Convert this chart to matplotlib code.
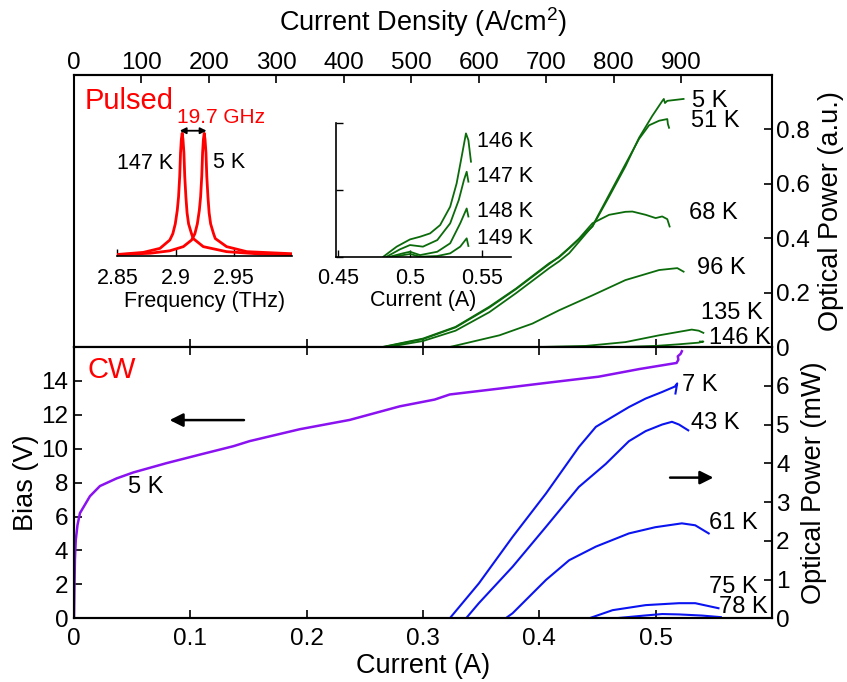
import matplotlib
matplotlib.use('Agg')
import matplotlib.pyplot as plt

plt.rcParams['font.family'] = ['Liberation Sans', 'DejaVu Sans']
plt.rcParams['mathtext.fontset'] = 'custom'
plt.rcParams['mathtext.rm'] = 'Liberation Sans'
plt.rcParams['mathtext.it'] = 'Liberation Sans:italic'
plt.rcParams['axes.linewidth'] = 1.5

# ---------------- data ----------------
# Pulsed L-I (current in A, optical power in a.u.)
p5_I = [0.265, 0.3, 0.328, 0.357, 0.38, 0.4085, 0.417, 0.4257, 0.4457, 0.46, 0.474, 0.4857, 0.497, 0.5056, 0.507, 0.508, 0.51, 0.524]
p5_P = [0, 0.031, 0.074, 0.148, 0.215, 0.308, 0.33, 0.363, 0.443, 0.553, 0.664, 0.769, 0.849, 0.904, 0.912, 0.897, 0.905, 0.912]
p51_I = [0.27, 0.3, 0.328, 0.357, 0.38, 0.4085, 0.417, 0.4257, 0.4457, 0.46, 0.474, 0.4857, 0.4943, 0.503, 0.51, 0.5105, 0.5115]
p51_P = [0, 0.022, 0.06, 0.128, 0.198, 0.29, 0.315, 0.345, 0.445, 0.56, 0.672, 0.765, 0.815, 0.832, 0.838, 0.82, 0.806]
p68_I = [0.266, 0.3, 0.328, 0.357, 0.38, 0.4085, 0.417, 0.4257, 0.434, 0.4457, 0.46, 0.474, 0.48, 0.4914, 0.5, 0.5056, 0.51, 0.512]
p68_P = [0, 0.029, 0.072, 0.145, 0.213, 0.305, 0.332, 0.365, 0.398, 0.455, 0.486, 0.497, 0.498, 0.486, 0.474, 0.48, 0.47, 0.443]
p96_I = [0.323, 0.3657, 0.394, 0.417, 0.4457, 0.474, 0.503, 0.5186, 0.524]
p96_P = [0, 0.043, 0.086, 0.135, 0.19, 0.246, 0.283, 0.29, 0.277]
p135_I = [0.40, 0.44, 0.474, 0.503, 0.531, 0.537, 0.541]
p135_P = [0, 0.004, 0.018, 0.043, 0.064, 0.06, 0.052]
p146_I = [0.47, 0.5, 0.52, 0.537, 0.541, 0.538]
p146_P = [0, 0.004, 0.01, 0.016, 0.02, 0.02]
pulsed_curves = [(p5_I, p5_P), (p51_I, p51_P), (p68_I, p68_P), (p96_I, p96_P), (p135_I, p135_P), (p146_I, p146_P)]
pulsed_labels = ['5 K', '51 K', '68 K', '96 K', '135 K', '146 K']
pulsed_label_x = [0.531, 0.5305, 0.5288, 0.5356, 0.539, 0.546]
pulsed_label_y = [0.904, 0.830, 0.493, 0.290, 0.124, 0.032]

# CW bias (V) at 5 K
bias_I = [0, 0.0003, 0.0008, 0.0015, 0.003, 0.0051, 0.0137, 0.0223, 0.0366, 0.0509, 0.0795, 0.108, 0.137, 0.151, 0.194, 0.237, 0.28, 0.31, 0.323, 0.366, 0.408, 0.451, 0.486, 0.518, 0.5195, 0.519, 0.5215, 0.5225]
bias_V = [0, 1.5, 3.5, 4.6, 5.5, 6.2, 7.2, 7.8, 8.25, 8.6, 9.15, 9.65, 10.15, 10.45, 11.15, 11.7, 12.5, 12.9, 13.2, 13.55, 13.9, 14.25, 14.7, 15.06, 15.25, 15.45, 15.6, 15.75]

# CW L-I (mW)
c7_I = [0.323, 0.348, 0.377, 0.4057, 0.434, 0.4486, 0.463, 0.477, 0.4914, 0.5056, 0.5165, 0.5185, 0.517]
c7_P = [0, 0.9, 2.1, 3.22, 4.42, 4.94, 5.2, 5.45, 5.67, 5.84, 5.98, 6.06, 5.8]
c43_I = [0.337, 0.348, 0.377, 0.4057, 0.434, 0.457, 0.477, 0.4914, 0.5056, 0.514, 0.52, 0.528]
c43_P = [0, 0.39, 1.33, 2.36, 3.39, 3.98, 4.57, 4.83, 5.0, 5.07, 5.0, 4.85]
c61_I = [0.33, 0.371, 0.377, 0.4057, 0.4257, 0.4486, 0.477, 0.4996, 0.5225, 0.534, 0.5456]
c61_P = [0, 0, 0.13, 0.99, 1.5, 1.85, 2.19, 2.35, 2.45, 2.4, 2.19]
c75_I = [0.33, 0.4428, 0.463, 0.4914, 0.52, 0.534, 0.554]
c75_P = [0, 0, 0.21, 0.34, 0.39, 0.39, 0.26]
c78_I = [0.33, 0.465, 0.49, 0.5056, 0.52, 0.54, 0.556]
c78_P = [0, 0, 0.07, 0.11, 0.1, 0.07, 0.03]
cw_curves = [(c7_I, c7_P), (c43_I, c43_P), (c61_I, c61_P), (c75_I, c75_P), (c78_I, c78_P)]
cw_labels = ['7 K', '43 K', '61 K', '75 K', '78 K']
cw_label_x = [0.5228, 0.5305, 0.546, 0.546, 0.5545]
cw_label_y = [6.01, 5.03, 2.46, 0.81, 0.30]

# Spectra inset (THz, normalised)
f147 = [2.85, 2.8723, 2.8866, 2.895, 2.8976, 2.8997, 2.9014, 2.9025, 2.9035, 2.9042, 2.9049, 2.9056, 2.9063, 2.9071, 2.9078, 2.9088, 2.9098, 2.9111, 2.9136, 2.9151, 2.9237, 2.9437, 2.9723, 3.0]
a147 = [0.01, 0.027, 0.06, 0.128, 0.18, 0.26, 0.37, 0.48, 0.65, 0.84, 0.95, 1.0, 0.95, 0.84, 0.65, 0.48, 0.35, 0.26, 0.18, 0.14, 0.074, 0.033, 0.014, 0.008]
f5 = [2.85, 2.878, 2.895, 2.9066, 2.9137, 2.9165, 2.9186, 2.9203, 2.9214, 2.9224, 2.9231, 2.9238, 2.9245, 2.9252, 2.926, 2.9267, 2.9277, 2.9287, 2.93, 2.9325, 2.934, 2.9437, 2.961, 3.0]
a5 = [0.008, 0.02, 0.04, 0.074, 0.128, 0.18, 0.26, 0.37, 0.48, 0.65, 0.84, 0.95, 1.0, 0.95, 0.84, 0.65, 0.48, 0.35, 0.26, 0.18, 0.14, 0.074, 0.033, 0.016]

# L-I inset near threshold (A, a.u.)
i146_I = [0.4814, 0.4907, 0.5, 0.507, 0.514, 0.521, 0.528, 0.5325, 0.536, 0.539, 0.5407, 0.5425]
i146_P = [0, 0.075, 0.129, 0.149, 0.174, 0.236, 0.373, 0.547, 0.746, 0.92, 0.87, 0.709]
i147_I = [0.4837, 0.493, 0.5, 0.509, 0.519, 0.528, 0.534, 0.5376, 0.5395, 0.5407]
i147_P = [0, 0.055, 0.087, 0.075, 0.124, 0.249, 0.423, 0.572, 0.634, 0.56]
i148_I = [0.486, 0.495, 0.5, 0.507, 0.519, 0.528, 0.535, 0.5395, 0.5407]
i148_P = [0, 0.025, 0.037, 0.012, 0.037, 0.1, 0.249, 0.36, 0.3]
i149_I = [0.488, 0.5, 0.507, 0.519, 0.528, 0.535, 0.5395, 0.5407]
i149_P = [0, 0.02, 0.0, 0.005, 0.025, 0.075, 0.137, 0.08]
inset_curves = [(i146_I, i146_P), (i147_I, i147_P), (i148_I, i148_P), (i149_I, i149_P)]
inset_labels = ['146 K', '147 K', '148 K', '149 K']
inset_label_y = [0.858, 0.597, 0.336, 0.137]

current_ticks = [0, 0.1, 0.2, 0.3, 0.4, 0.5]
current_ticklabels = ['0', '0.1', '0.2', '0.3', '0.4', '0.5']
density_ticks = [0, 100, 200, 300, 400, 500, 600, 700, 800, 900]
A_PER_CURRENT = 1725.0  # A/cm^2 per A
au_ticks = [0, 0.2, 0.4, 0.6, 0.8]
au_ticklabels = ['0', '0.2', '0.4', '0.6', '0.8']
bias_ticks = [0, 2, 4, 6, 8, 10, 12, 14]
mw_ticks = [0, 1, 2, 3, 4, 5, 6]

GREEN = '#0b6b0b'
BLUE = '#0a14f0'
PURPLE = '#8a12f0'
RED = '#ff0000'

TICK_FS = 17.5
LAB_FS = 19.5
TXT_FS = 17
INS_FS = 15.5

W, H = 847, 682
fig = plt.figure(figsize=(W / 100, H / 100), dpi=100)


def box(l, t, r, b):
    return [l / W, 1 - b / H, (r - l) / W, (b - t) / H]


# ---------------- top (pulsed) panel ----------------
ax_t = fig.add_axes(box(74, 75, 772, 347))
for (I, P) in pulsed_curves:
    ax_t.plot(I, P, color=GREEN, lw=1.3)
ax_t.set_xlim(0, 0.6)
ax_t.set_ylim(0, 1.0)
ax_t.set_xticks(current_ticks)
ax_t.tick_params(axis='x', direction='in', length=6, width=1.2, labelbottom=False, bottom=True, top=False)
ax_t.yaxis.tick_right()
ax_t.set_yticks(au_ticks)
ax_t.set_yticklabels(au_ticklabels)
ax_t.tick_params(axis='y', direction='in', length=6, width=1.2, labelsize=TICK_FS, pad=3, left=False, right=True)
ax_t.yaxis.set_label_position('right')
ax_t.set_ylabel('Optical Power (a.u.)', fontsize=LAB_FS, labelpad=6)
for lab, x, y in zip(pulsed_labels, pulsed_label_x, pulsed_label_y):
    ax_t.text(x, y, lab, fontsize=TXT_FS, ha='left', va='center')
ax_t.text(0.0094, 0.904, 'Pulsed', color=RED, fontsize=21, ha='left', va='center')

sec = ax_t.secondary_xaxis('top', functions=(lambda x: x * A_PER_CURRENT, lambda j: j / A_PER_CURRENT))
sec.set_xticks(density_ticks)
sec.tick_params(direction='in', length=6, width=1.2, labelsize=TICK_FS, pad=1)
sec.set_xlabel('Current Density (A/cm$^2$)', fontsize=LAB_FS, labelpad=15)

# ---------------- bottom (CW) panel ----------------
ax_b = fig.add_axes(box(74, 347, 772, 618.3))
ax_b.plot(bias_I, bias_V, color=PURPLE, lw=1.8)
ax_b.set_xlim(0, 0.6)
ax_b.set_ylim(0, 16)
ax_b.set_xticks(current_ticks)
ax_b.set_xticklabels(current_ticklabels)
ax_b.set_yticks(bias_ticks)
ax_b.tick_params(axis='both', direction='in', length=6, width=1.2, labelsize=TICK_FS)
ax_b.tick_params(axis='x', top=True, pad=7)
ax_b.tick_params(axis='y', right=False, pad=4)
ax_b.set_xlabel('Current (A)', fontsize=LAB_FS, labelpad=2)
ax_b.set_ylabel('Bias (V)', fontsize=LAB_FS, labelpad=2)
ax_b.text(0.0464, 7.74, '5 K', fontsize=TXT_FS, ha='left', va='center')
ax_b.text(0.012, 14.63, 'CW', color=RED, fontsize=21, ha='left', va='center')
ax_b.annotate('', xy=(0.0798, 11.69), xytext=(0.1485, 11.69),
              arrowprops=dict(arrowstyle='-|>', color='black', lw=1.8, mutation_scale=20))

ax_r = ax_b.twinx()
for (I, P) in cw_curves:
    ax_r.plot(I, P, color=BLUE, lw=1.5)
ax_r.set_ylim(0, 7)
ax_r.set_yticks(mw_ticks)
ax_r.tick_params(axis='y', direction='in', length=6, width=1.2, labelsize=TICK_FS, pad=3)
ax_r.set_ylabel('Optical Power (mW)', fontsize=LAB_FS, labelpad=8)
for lab, x, y in zip(cw_labels, cw_label_x, cw_label_y):
    ax_r.text(x, y, lab, fontsize=TXT_FS, ha='left', va='center')
ax_r.annotate('', xy=(0.552, 3.63), xytext=(0.51, 3.63),
              arrowprops=dict(arrowstyle='-|>', color='black', lw=1.8, mutation_scale=20))

# ---------------- spectrum inset ----------------
ax_s = fig.add_axes(box(117.3, 125.7, 292.3, 255.7))
ax_s.set_facecolor('none')
ax_s.plot(f147, a147, color=RED, lw=2.0)
ax_s.plot(f5, a5, color=RED, lw=2.0)
ax_s.set_xlim(2.85, 3.0)
ax_s.set_ylim(0, 1.062)
for s in ['left', 'right', 'top']:
    ax_s.spines[s].set_visible(False)
ax_s.spines['bottom'].set_linewidth(1.2)
ax_s.set_yticks([])
ax_s.set_xticks([2.85, 2.9, 2.95])
ax_s.set_xticklabels(['2.85', '2.9', '2.95'])
ax_s.tick_params(axis='x', direction='in', length=5, width=1.0, labelsize=INS_FS, pad=9)
ax_s.set_xlabel('Frequency (THz)', fontsize=INS_FS, labelpad=1)
ax_s.text(2.898, 0.757, '147 K', fontsize=INS_FS, ha='right', va='center')
ax_s.text(2.932, 0.765, '5 K', fontsize=INS_FS, ha='left', va='center')
ax_s.text(2.939, 1.133, '19.7 GHz', color=RED, fontsize=15, ha='center', va='center', clip_on=False)
ax_s.annotate('', xy=(2.9035, 1.021), xytext=(2.9265, 1.021), annotation_clip=False,
              arrowprops=dict(arrowstyle='<|-|>', color='black', lw=1.3, mutation_scale=9,
                              shrinkA=0, shrinkB=0))

# ---------------- threshold L-I inset ----------------
ax_i = fig.add_axes(box(336, 122.7, 510.7, 256.7))
ax_i.set_facecolor('none')
for (I, P) in inset_curves:
    ax_i.plot(I, P, color=GREEN, lw=1.3)
ax_i.set_xlim(0.4484, 0.5702)
ax_i.set_ylim(0, 1)
for s in ['right', 'top']:
    ax_i.spines[s].set_visible(False)
ax_i.spines['bottom'].set_linewidth(1.2)
ax_i.spines['left'].set_linewidth(1.2)
ax_i.set_xticks([0.45, 0.5, 0.55])
ax_i.set_xticklabels(['0.45', '0.5', '0.55'])
ax_i.set_yticks([0, 0.5, 1])
ax_i.set_yticklabels([])
ax_i.tick_params(axis='both', direction='in', length=5, width=1.0, labelsize=INS_FS)
ax_i.tick_params(axis='x', pad=8)
ax_i.set_xlabel('Current (A)', fontsize=INS_FS, labelpad=1)
for lab, y in zip(inset_labels, inset_label_y):
    ax_i.text(0.5467, y, lab, fontsize=INS_FS, ha='left', va='center', clip_on=False)

fig.savefig('out.png', dpi=100)
